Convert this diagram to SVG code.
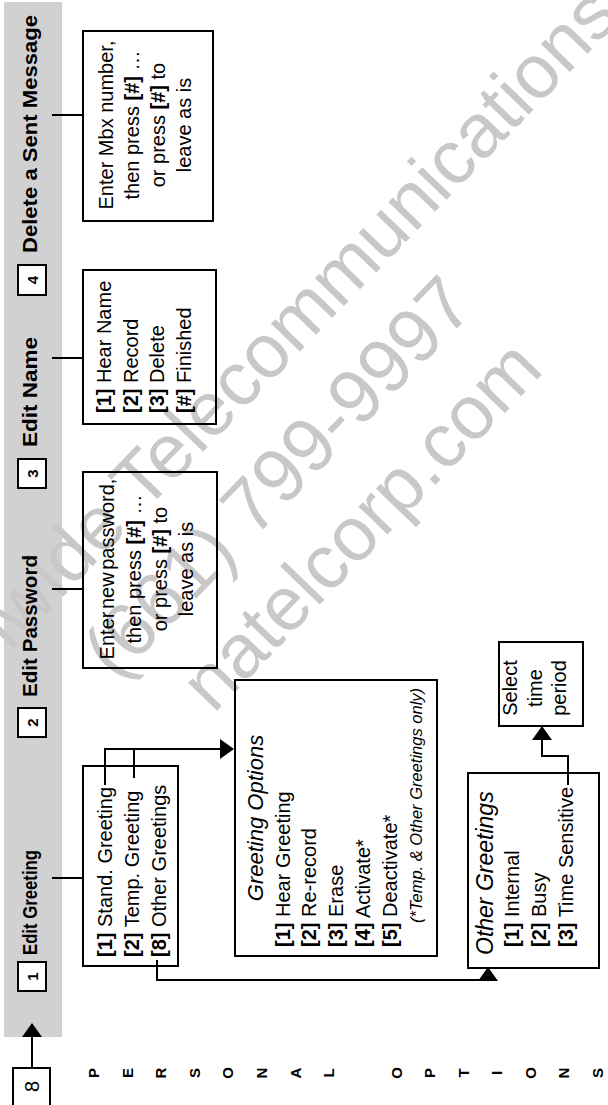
<svg xmlns="http://www.w3.org/2000/svg" width="608" height="1105" viewBox="0 0 608 1105">
<style>
text { font-family: "Liberation Sans", Arial, sans-serif; fill: #000; }
.box { fill: none; stroke: #000; stroke-width: 2; }
.nbox { fill: #fff; stroke: #000; stroke-width: 2; }
.hdr { font-size: 21px; font-weight: bold; }
.num { font-size: 15px; font-weight: bold; text-anchor: middle; }
.body { font-size: 20px; }
.b { font-weight: bold; }
.ttl { font-size: 22px; font-style: italic; }
.note { font-size: 16.5px; font-style: italic; }
.mid { text-anchor: middle; }
.tight { word-spacing: -3px; }
.wm { font-size: 76px; fill: #c8c8c8; text-anchor: middle; }
.conn { fill: none; stroke: #000; stroke-width: 2; }
.side { font-size: 15px; font-weight: bold; text-anchor: middle; }
</style>
<defs>
<marker id="ah" viewBox="0 0 14 20" refX="12" refY="10" markerWidth="14" markerHeight="20" markerUnits="userSpaceOnUse" orient="auto">
<path d="M0,0 L14,10 L0,20 z" fill="#000"/>
</marker>
</defs>
<rect x="0" y="0" width="608" height="1105" fill="#fff"/>
<rect id="band" x="4" y="2" width="58" height="1035" fill="#d1d1d1"/>
<g id="watermark" transform="rotate(-46)">
<text class="wm" x="-123" y="460">Nationwide Telecommunications</text>
<text class="wm" x="-150" y="557">(661) 799-9997</text>
<text class="wm" x="-127" y="650">natelcorp.com</text>
</g>
<g transform="translate(0 1105) rotate(-90)">
<g id="connectors">
<line class="conn" x1="227" y1="52" x2="227" y2="83"/>
<line class="conn" x1="516" y1="52" x2="516" y2="83"/>
<line class="conn" x1="747" y1="52" x2="747" y2="83"/>
<line class="conn" x1="990" y1="52" x2="990" y2="83"/>
<path class="conn" d="M320,105 H356 V232" marker-end="url(#ah)"/>
<path class="conn" d="M327,134 H356"/>
<path class="conn" d="M145,157 H125 V488 H136" marker-end="url(#ah)"/>
<path class="conn" d="M320,568 H349 V542 H377" marker-end="url(#ah)"/>
<path class="conn" d="M37,32 H80" marker-end="url(#ah)"/>
</g>
<g id="hdr-greeting">
<rect class="nbox" x="114" y="18" width="29" height="28"/>
<text class="num" x="128.5" y="37.5">1</text>
<text class="hdr" x="150" y="37" textLength="105" lengthAdjust="spacingAndGlyphs">Edit Greeting</text>
</g>
<g id="hdr-password">
<rect class="nbox" x="368" y="18" width="29" height="28"/>
<text class="num" x="382.5" y="37.5">2</text>
<text class="hdr" x="408" y="37" textLength="142" lengthAdjust="spacingAndGlyphs">Edit Password</text>
</g>
<g id="hdr-name">
<rect class="nbox" x="617" y="18" width="29" height="28"/>
<text class="num" x="631.5" y="37.5">3</text>
<text class="hdr" x="658" y="37" textLength="110" lengthAdjust="spacingAndGlyphs">Edit Name</text>
</g>
<g id="hdr-delete">
<rect class="nbox" x="810" y="18" width="30" height="28"/>
<text class="num" x="825" y="37.5">4</text>
<text class="hdr" x="852" y="37" textLength="238" lengthAdjust="spacingAndGlyphs">Delete a Sent Message</text>
</g>
<g id="start-8">
<path class="box" d="M-2,13 H37 V50 H-2"/>
<text class="body mid" x="18.5" y="38.5">8</text>
</g>
<g id="greeting-menu">
<rect class="box" x="139" y="83" width="200" height="95"/>
<text class="body" x="148" y="112"><tspan class="b">[1]</tspan> Stand. Greeting</text>
<text class="body" x="148" y="139"><tspan class="b">[2]</tspan> Temp. Greeting</text>
<text class="body" x="148" y="166"><tspan class="b">[8]</tspan> Other Greetings</text>
</g>
<g id="greeting-options">
<rect class="box" x="149" y="235" width="276" height="202"/>
<text class="ttl mid" x="287" y="263">Greeting Options</text>
<text class="body" x="158" y="290"><tspan class="b">[1]</tspan> Hear Greeting</text>
<text class="body" x="158" y="316"><tspan class="b">[2]</tspan> Re-record</text>
<text class="body" x="158" y="343"><tspan class="b">[3]</tspan> Erase</text>
<text class="body" x="158" y="370"><tspan class="b">[4]</tspan> Activate*</text>
<text class="body" x="158" y="397"><tspan class="b">[5]</tspan> Deactivate*</text>
<text class="note" x="182" y="422">(*Temp. &amp; Other Greetings only)</text>
</g>
<g id="other-greetings">
<rect class="box" x="137" y="468" width="195" height="131"/>
<text class="ttl" x="150" y="493" style="font-size:23px">Other Greetings</text>
<text class="body" x="158" y="519"><tspan class="b">[1]</tspan> Internal</text>
<text class="body" x="158" y="546"><tspan class="b">[2]</tspan> Busy</text>
<text class="body" x="158" y="573"><tspan class="b">[3]</tspan> Time Sensitive</text>
</g>
<g id="select-period">
<rect class="box" x="379" y="499" width="84" height="84"/>
<text class="body mid" x="417" y="517">Select</text>
<text class="body mid" x="417" y="542">time</text>
<text class="body mid" x="417" y="566">period</text>
</g>
<g id="password-box">
<rect class="box" x="437" y="83" width="196" height="134"/>
<text class="body mid tight" x="536" y="114">Enter new password,</text>
<text class="body mid" x="536" y="141">then press <tspan class="b">[#]</tspan> …</text>
<text class="body mid" x="536" y="167">or press <tspan class="b">[#]</tspan> to</text>
<text class="body mid" x="536" y="193">leave as is</text>
</g>
<g id="name-box">
<rect class="box" x="681" y="83" width="154" height="133"/>
<text class="body" x="692" y="111"><tspan class="b">[1]</tspan> Hear Name</text>
<text class="body" x="692" y="138"><tspan class="b">[2]</tspan> Record</text>
<text class="body" x="692" y="164"><tspan class="b">[3]</tspan> Delete</text>
<text class="body" x="692" y="191"><tspan class="b">[#]</tspan> Finished</text>
</g>
<g id="mbx-box">
<rect class="box" x="884" y="83" width="190" height="130"/>
<text class="body mid" x="980" y="113">Enter Mbx number,</text>
<text class="body mid" x="980" y="139">then press <tspan class="b">[#]</tspan> …</text>
<text class="body mid" x="980" y="165">or press <tspan class="b">[#]</tspan> to</text>
<text class="body mid" x="980" y="191">leave as is</text>
</g>
<g id="side-label">
<text class="side" x="32 32 32 32 32 32 32 32 32 32 32 32 32 32 32 32" y="99 133 166 200 233 267 301 334 368 402 435 469 502 536 569 603">PERSONAL OPTIONS</text>
</g>
</g>
</svg>
